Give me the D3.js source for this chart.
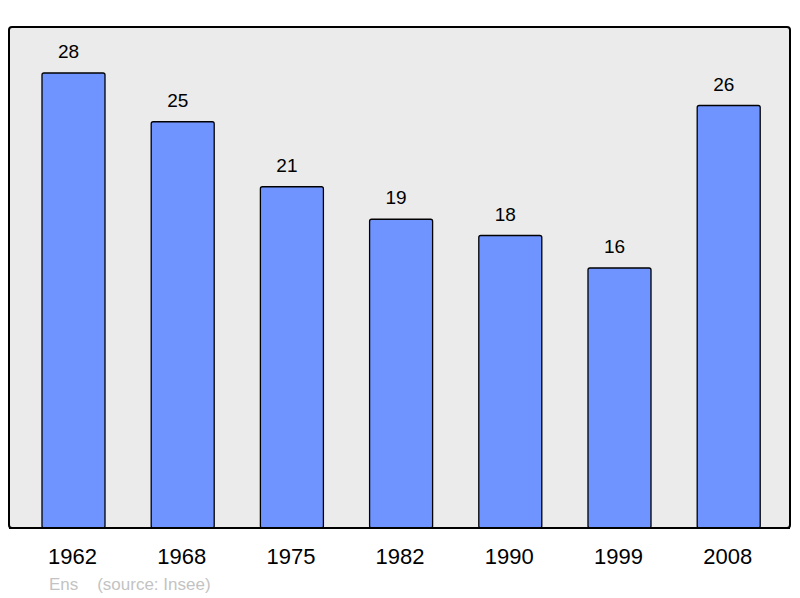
<!DOCTYPE html>
<html>
<head>
<meta charset="utf-8">
<style>
  body { margin: 0; background: #fff; }
  svg { display: block; font-family: "Liberation Sans", Arial, sans-serif; }
</style>
</head>
<body>
<svg width="800" height="598"></svg>
<script src="https://cdn.jsdelivr.net/npm/d3@7"></script>
<script>

var years = ["1962", "1968", "1975", "1982", "1990", "1999", "2008"];
var population = [28, 25, 21, 19, 18, 16, 26];
var commune = "Ens";
var source = "(source: Insee)";

var svg = d3.select("svg");

var panel = {left: 9, top: 27, right: 790, bottom: 528};

// background panel
svg.append("rect")
    .attr("x", panel.left)
    .attr("y", panel.top)
    .attr("width", panel.right - panel.left)
    .attr("height", panel.bottom - panel.top)
    .attr("rx", 3)
    .style("fill", "#ebebeb")
    .style("stroke", "black")
    .style("stroke-width", 2);

var x = d3.scaleBand()
    .domain(years)
    .range([18.9, 783.3])
    .paddingInner(0.423)
    .paddingOuter(0.2115);

var y = d3.scaleLinear()
    .domain([0, 28])
    .range([panel.bottom, 73]);

var data = years.map((yr, i) => ({year: yr, value: population[i]}));

svg.append("g")
  .selectAll("rect")
  .data(data)
  .enter().append("rect")
    .attr("x", d => x(d.year))
    .attr("y", d => y(d.value))
    .attr("width", x.bandwidth())
    .attr("height", d => panel.bottom - y(d.value))
    .attr("rx", 2)
    .style("fill", "#7094ff")
    .style("stroke", "black")
    .style("stroke-width", 1.3);

// redraw bottom border on top of bars
svg.append("line")
    .attr("x1", panel.left)
    .attr("x2", panel.right)
    .attr("y1", panel.bottom)
    .attr("y2", panel.bottom)
    .style("stroke", "black")
    .style("stroke-width", 2);

svg.append("g")
  .selectAll("text")
  .data(data)
  .enter().append("text")
    .attr("x", d => x(d.year) + x.bandwidth() / 2 - 5)
    .attr("y", d => y(d.value) - 15)
    .attr("text-anchor", "middle")
    .style("font-size", "19px")
    .text(d => d.value);

svg.append("g")
  .selectAll("text")
  .data(years)
  .enter().append("text")
    .attr("x", d => x(d) + x.bandwidth() / 2 - 1)
    .attr("y", 564)
    .attr("text-anchor", "middle")
    .style("font-size", "22px")
    .text(d => d);

svg.append("text")
    .attr("x", 49)
    .attr("y", 590)
    .style("font-size", "17px")
    .style("fill", "#c3c3c3")
    .attr("xml:space", "preserve")
    .text(commune + "    " + source);

</script>
</body>
</html>
